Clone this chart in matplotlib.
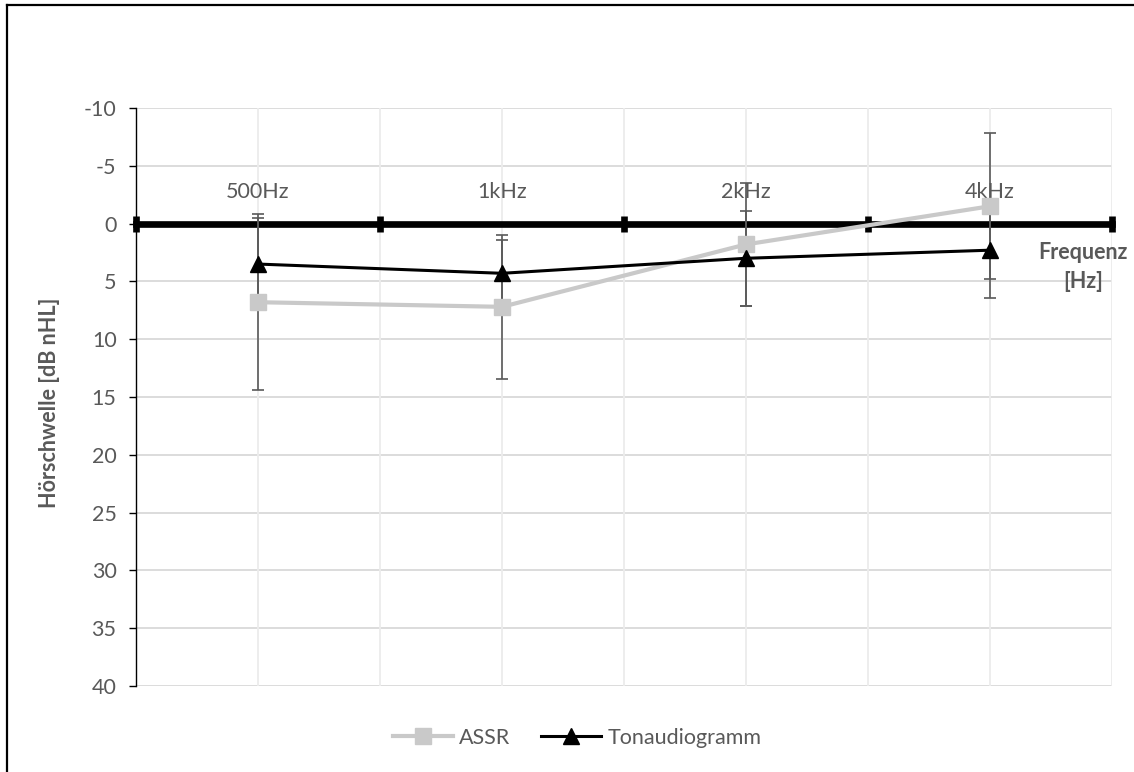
import matplotlib
matplotlib.use("Agg")
import matplotlib.pyplot as plt
from matplotlib.lines import Line2D
import numpy as np

plt.rcParams['font.family'] = ['Lato', 'DejaVu Sans']

categories = ["500Hz", "1kHz", "2kHz", "4kHz"]
assr_mean = [6.8, 7.2, 1.8, -1.5]
assr_sd = [7.6, 6.2, 5.3, 6.3]
tone_mean = [3.5, 4.3, 3.0, 2.3]
tone_sd = [4.0, 2.9, 4.1, 4.1]
y_ticks = [-10, -5, 0, 5, 10, 15, 20, 25, 30, 35, 40]

GRAY_TXT = "#595959"
FS = 15.5

fig = plt.figure(figsize=(11.34, 7.72), dpi=100)
ax = fig.add_axes([136/1134, 1-686/772, (1112-136)/1134, (686-108)/772])

x = np.arange(len(categories))

# grid
for yv in y_ticks:
    ax.axhline(yv, color="#d9d9d9", lw=1.3, zorder=0.2)
for xb in np.arange(-0.5, len(categories), 1.0):
    ax.axvline(xb, color="#ececec", lw=1.3, zorder=0.2)
for xc in x:
    ax.axvline(xc, color="#ececec", lw=1.3, zorder=0.2)

# x-axis at 0
ax.spines['bottom'].set_position(('data', 0))
ax.spines['bottom'].set_linewidth(4.8)
ax.spines['bottom'].set_color("black")
ax.spines['bottom'].set_zorder(0.6)
ax.spines['top'].set_visible(False)
ax.spines['right'].set_visible(False)
ax.spines['left'].set_linewidth(1.0)
ax.spines['left'].set_zorder(0.6)
ax.set_axisbelow(True)

ax.set_xlim(-0.5, len(categories) - 0.5)
ax.set_ylim(40, -10)
ax.set_xticks(np.arange(-0.5, len(categories), 1.0))
ax.set_xticklabels([])
ax.tick_params(axis='x', direction='inout', length=11.5, width=4.8, color='black')
ax.set_yticks(y_ticks)
ax.set_yticklabels([str(v) for v in y_ticks])
ax.tick_params(axis='y', direction='out', length=5, width=1.0, color='black',
               labelsize=FS, labelcolor=GRAY_TXT, pad=9)

for i, c in enumerate(categories):
    ax.annotate(c, xy=(i, 0), xytext=(0, 22.5), textcoords='offset points',
                ha='center', va='center', fontsize=FS, color=GRAY_TXT, zorder=0.7)

# error bars
ax.errorbar(x, assr_mean, yerr=assr_sd, fmt='none', ecolor=GRAY_TXT,
            elinewidth=1.2, capsize=4.3, capthick=1.2, zorder=3)
ax.errorbar(x, tone_mean, yerr=tone_sd, fmt='none', ecolor=GRAY_TXT,
            elinewidth=1.2, capsize=4.3, capthick=1.2, zorder=3)

ax.plot(x, assr_mean, color="#c9c9c9", lw=3.0, marker='s', markersize=12,
        markerfacecolor="#c9c9c9", markeredgecolor="#c9c9c9", zorder=4, label="ASSR")
ax.plot(x, tone_mean, color="black", lw=2.2, marker='^', markersize=11.5,
        markerfacecolor="black", markeredgecolor="black", zorder=5, label="Tonaudiogramm")

ax.set_ylabel("Hörschwelle [dB nHL]", fontsize=FS, fontweight='bold', color=GRAY_TXT)
ax.yaxis.set_label_coords((60-136)/976, 0.49)

fig.text(1083/1134, 1-267/772, "Frequenz\n[Hz]", ha='center', va='center',
         fontsize=FS, fontweight='bold', color=GRAY_TXT, linespacing=1.5)

leg = fig.legend(loc='center', bbox_to_anchor=(577/1134, 1-738/772), ncol=2,
                 frameon=False, fontsize=FS, handlelength=2.8, handletextpad=0.3,
                 columnspacing=1.4)
for t in leg.get_texts():
    t.set_color(GRAY_TXT)

# outer chart border (left and top visible)
fig.add_artist(Line2D([7/1134, 7/1134], [0, 1-5/772], transform=fig.transFigure,
                      color='black', lw=1.6))
fig.add_artist(Line2D([7/1134, 1], [1-5/772, 1-5/772], transform=fig.transFigure,
                      color='black', lw=1.6))

fig.savefig("out.png", dpi=100, facecolor='white')
